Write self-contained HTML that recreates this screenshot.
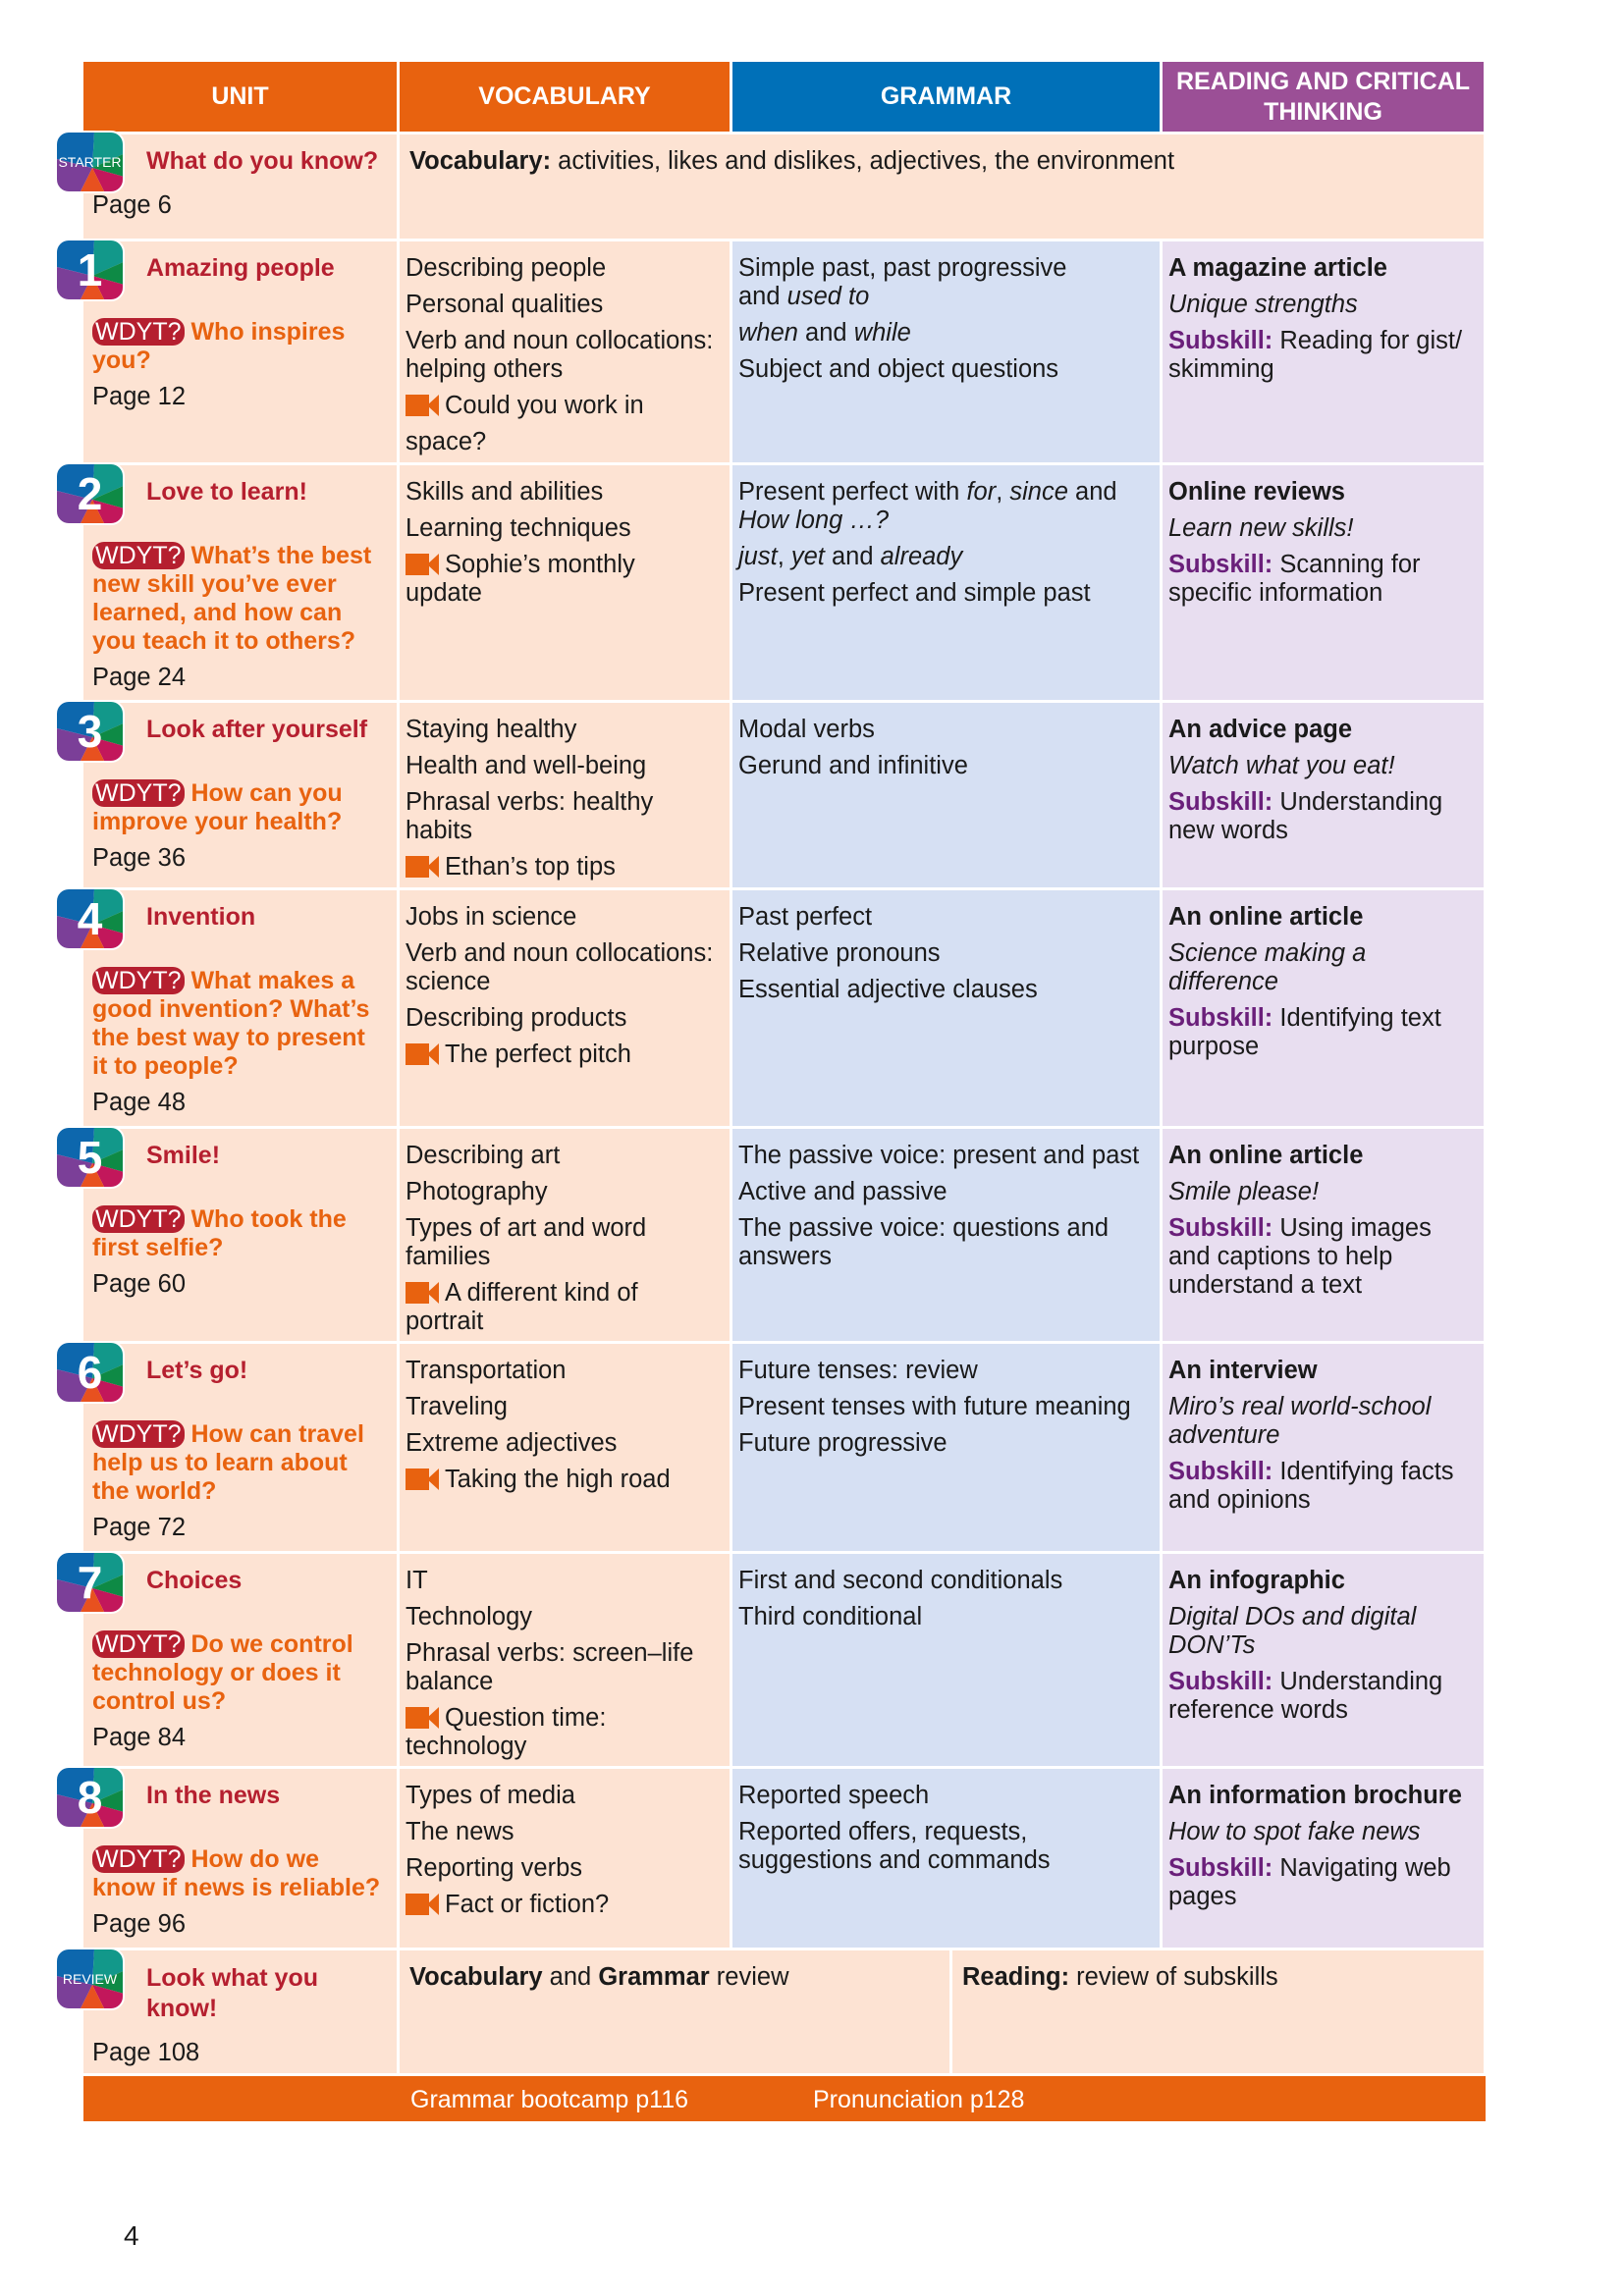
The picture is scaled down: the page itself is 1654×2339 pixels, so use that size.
<!DOCTYPE html>
<html><head><meta charset="utf-8"><style>
*{margin:0;padding:0;box-sizing:border-box}
body{width:1654px;height:2339px;background:#fff;position:relative;font-family:"Liberation Sans",sans-serif;color:#1a1a1a;overflow:hidden}
.c{position:absolute;padding:13px 6px 0 6px;font-size:25.5px;line-height:29px;white-space:nowrap;overflow:hidden}
.c p{margin-bottom:8px}
.pe{background:#fde3d3}.bl{background:#d6e0f3}.lv{background:#e8def0}
.h{position:absolute;color:#fff;font-weight:bold;font-size:25px;display:flex;align-items:center;justify-content:center;text-align:center;line-height:31px;top:63px;height:71px}
.u{padding-left:9px}
.t{color:#b51f2f;font-weight:bold;margin-left:55px;margin-bottom:36px!important;font-size:25px}
.w{color:#e8620f;font-weight:bold;font-size:25px}
.pill{background:#b51f2f;color:#fff;font-weight:normal;border-radius:12px;padding:0 3px}
.s{color:#6a1f7a;font-weight:bold}
.vid{display:inline-block;width:24px;height:22px;background:#e8620f;vertical-align:-3px;position:relative;margin-right:16px}
.vid:after{content:"";position:absolute;left:22px;top:0;border-right:12px solid #e8620f;border-top:11px solid transparent;border-bottom:11px solid transparent}
.bd{position:absolute;left:56px;width:71px;height:64px;border-radius:14px;overflow:hidden;border:2px solid #fff}
.bd span{position:absolute;left:0;top:0;width:67px;height:60px;display:flex;align-items:center;justify-content:center;color:#fff;font-weight:bold;font-size:46px}
.bd span.sm{font-size:14px;font-weight:normal}
</style></head><body>
<div class="h" style="left:85px;width:319px;background:#e8620f">UNIT</div>
<div class="h" style="left:407px;width:336px;background:#e8620f">VOCABULARY</div>
<div class="h" style="left:746px;width:435px;background:#0070b8">GRAMMAR</div>
<div class="h" style="left:1184px;width:327px;background:#9b4f96">READING AND CRITICAL<br>THINKING</div>

<!-- starter -->
<div class="c pe u" style="left:85px;top:137px;width:319px;height:106px"><p class="t" style="margin-bottom:16px!important">What do you know?</p><p>Page 6</p></div>
<div class="c pe" style="left:407px;top:137px;width:1104px;height:106px;padding-left:10px"><p><b>Vocabulary:</b> activities, likes and dislikes, adjectives, the environment</p></div>

<!-- 1 -->
<div class="c pe u" style="left:85px;top:246px;width:319px;height:225px"><p class="t">Amazing people</p><p class="w"><span class="pill">WDYT?</span> Who inspires<br>you?</p><p>Page 12</p></div>
<div class="c pe" style="left:407px;top:246px;width:336px;height:225px"><p>Describing people</p><p>Personal qualities</p><p>Verb and noun collocations:<br>helping others</p><p><span class="vid"></span>Could you work in</p><p>space?</p></div>
<div class="c bl" style="left:746px;top:246px;width:435px;height:225px"><p>Simple past, past progressive<br>and <i>used to</i></p><p><i>when</i> and <i>while</i></p><p>Subject and object questions</p></div>
<div class="c lv" style="left:1184px;top:246px;width:327px;height:225px"><p><b>A magazine article</b></p><p><i>Unique strengths</i></p><p><span class="s">Subskill:</span> Reading for gist/<br>skimming</p></div>

<!-- 2 -->
<div class="c pe u" style="left:85px;top:474px;width:319px;height:239px"><p class="t">Love to learn!</p><p class="w"><span class="pill">WDYT?</span> What’s the best<br>new skill you’ve ever<br>learned, and how can<br>you teach it to others?</p><p>Page 24</p></div>
<div class="c pe" style="left:407px;top:474px;width:336px;height:239px"><p>Skills and abilities</p><p>Learning techniques</p><p><span class="vid"></span>Sophie’s monthly<br>update</p></div>
<div class="c bl" style="left:746px;top:474px;width:435px;height:239px"><p>Present perfect with <i>for</i>, <i>since</i> and<br><i>How long …?</i></p><p><i>just</i>, <i>yet</i> and <i>already</i></p><p>Present perfect and simple past</p></div>
<div class="c lv" style="left:1184px;top:474px;width:327px;height:239px"><p><b>Online reviews</b></p><p><i>Learn new skills!</i></p><p><span class="s">Subskill:</span> Scanning for<br>specific information</p></div>

<!-- 3 -->
<div class="c pe u" style="left:85px;top:716px;width:319px;height:188px"><p class="t">Look after yourself</p><p class="w"><span class="pill">WDYT?</span> How can you<br>improve your health?</p><p>Page 36</p></div>
<div class="c pe" style="left:407px;top:716px;width:336px;height:188px"><p>Staying healthy</p><p>Health and well-being</p><p>Phrasal verbs: healthy<br>habits</p><p><span class="vid"></span>Ethan’s top tips</p></div>
<div class="c bl" style="left:746px;top:716px;width:435px;height:188px"><p>Modal verbs</p><p>Gerund and infinitive</p></div>
<div class="c lv" style="left:1184px;top:716px;width:327px;height:188px"><p><b>An advice page</b></p><p><i>Watch what you eat!</i></p><p><span class="s">Subskill:</span> Understanding<br>new words</p></div>

<!-- 4 -->
<div class="c pe u" style="left:85px;top:907px;width:319px;height:240px"><p class="t">Invention</p><p class="w"><span class="pill">WDYT?</span> What makes a<br>good invention? What’s<br>the best way to present<br>it to people?</p><p>Page 48</p></div>
<div class="c pe" style="left:407px;top:907px;width:336px;height:240px"><p>Jobs in science</p><p>Verb and noun collocations:<br>science</p><p>Describing products</p><p><span class="vid"></span>The perfect pitch</p></div>
<div class="c bl" style="left:746px;top:907px;width:435px;height:240px"><p>Past perfect</p><p>Relative pronouns</p><p>Essential adjective clauses</p></div>
<div class="c lv" style="left:1184px;top:907px;width:327px;height:240px"><p><b>An online article</b></p><p><i>Science making a<br>difference</i></p><p><span class="s">Subskill:</span> Identifying text<br>purpose</p></div>

<!-- 5 -->
<div class="c pe u" style="left:85px;top:1150px;width:319px;height:216px"><p class="t">Smile!</p><p class="w"><span class="pill">WDYT?</span> Who took the<br>first selfie?</p><p>Page 60</p></div>
<div class="c pe" style="left:407px;top:1150px;width:336px;height:216px"><p>Describing art</p><p>Photography</p><p>Types of art and word<br>families</p><p><span class="vid"></span>A different kind of<br>portrait</p></div>
<div class="c bl" style="left:746px;top:1150px;width:435px;height:216px"><p>The passive voice: present and past</p><p>Active and passive</p><p>The passive voice: questions and<br>answers</p></div>
<div class="c lv" style="left:1184px;top:1150px;width:327px;height:216px"><p><b>An online article</b></p><p><i>Smile please!</i></p><p><span class="s">Subskill:</span> Using images<br>and captions to help<br>understand a text</p></div>

<!-- 6 -->
<div class="c pe u" style="left:85px;top:1369px;width:319px;height:211px"><p class="t">Let’s go!</p><p class="w"><span class="pill">WDYT?</span> How can travel<br>help us to learn about<br>the world?</p><p>Page 72</p></div>
<div class="c pe" style="left:407px;top:1369px;width:336px;height:211px"><p>Transportation</p><p>Traveling</p><p>Extreme adjectives</p><p><span class="vid"></span>Taking the high road</p></div>
<div class="c bl" style="left:746px;top:1369px;width:435px;height:211px"><p>Future tenses: review</p><p>Present tenses with future meaning</p><p>Future progressive</p></div>
<div class="c lv" style="left:1184px;top:1369px;width:327px;height:211px"><p><b>An interview</b></p><p><i>Miro’s real world-school<br>adventure</i></p><p><span class="s">Subskill:</span> Identifying facts<br>and opinions</p></div>

<!-- 7 -->
<div class="c pe u" style="left:85px;top:1583px;width:319px;height:216px"><p class="t">Choices</p><p class="w"><span class="pill">WDYT?</span> Do we control<br>technology or does it<br>control us?</p><p>Page 84</p></div>
<div class="c pe" style="left:407px;top:1583px;width:336px;height:216px"><p>IT</p><p>Technology</p><p>Phrasal verbs: screen–life<br>balance</p><p><span class="vid"></span>Question time:<br>technology</p></div>
<div class="c bl" style="left:746px;top:1583px;width:435px;height:216px"><p>First and second conditionals</p><p>Third conditional</p></div>
<div class="c lv" style="left:1184px;top:1583px;width:327px;height:216px"><p><b>An infographic</b></p><p><i>Digital DOs and digital<br>DON’Ts</i></p><p><span class="s">Subskill:</span> Understanding<br>reference words</p></div>

<!-- 8 -->
<div class="c pe u" style="left:85px;top:1802px;width:319px;height:182px"><p class="t">In the news</p><p class="w"><span class="pill">WDYT?</span> How do we<br>know if news is reliable?</p><p>Page 96</p></div>
<div class="c pe" style="left:407px;top:1802px;width:336px;height:182px"><p>Types of media</p><p>The news</p><p>Reporting verbs</p><p><span class="vid"></span>Fact or fiction?</p></div>
<div class="c bl" style="left:746px;top:1802px;width:435px;height:182px"><p>Reported speech</p><p>Reported offers, requests,<br>suggestions and commands</p></div>
<div class="c lv" style="left:1184px;top:1802px;width:327px;height:182px"><p><b>An information brochure</b></p><p><i>How to spot fake news</i></p><p><span class="s">Subskill:</span> Navigating web<br>pages</p></div>

<!-- review -->
<div class="c pe u" style="left:85px;top:1987px;width:319px;height:125px"><p class="t" style="margin-bottom:15px!important;line-height:31px">Look what you<br>know!</p><p>Page 108</p></div>
<div class="c pe" style="left:407px;top:1987px;width:560px;height:125px;padding-left:10px"><p><b>Vocabulary</b> and <b>Grammar</b> review</p></div>
<div class="c pe" style="left:970px;top:1987px;width:541px;height:125px;padding-left:10px"><p><b>Reading:</b> review of subskills</p></div>

<div style="position:absolute;left:85px;top:2115px;width:1428px;height:46px;background:#e8620f;color:#fff;font-size:25px;line-height:48px">
<span style="position:absolute;left:333px">Grammar bootcamp p116</span><span style="position:absolute;left:743px">Pronunciation p128</span></div>
<div style="position:absolute;left:126px;top:2262px;font-size:28px">4</div>

<!-- badges -->
<svg width="0" height="0" style="position:absolute"><defs><g id="seg">
<polygon points="0,0 38,0 36,36 0,27" fill="#0d67ad"/>
<polygon points="38,0 72,0 72,20 36,36" fill="#12988a"/>
<polygon points="72,20 72,46 36,36" fill="#0e8a45"/>
<polygon points="72,46 72,64 50,64 36,36" fill="#c2175b"/>
<polygon points="50,64 22,64 36,36" fill="#e8511f"/>
<polygon points="0,27 36,36 22,64 0,64" fill="#7b3f98"/>
</g></defs></svg>
<div class="bd" style="top:133px"><svg width="72" height="64"><use href="#seg"/></svg><span class="sm">STARTER</span></div>
<div class="bd" style="top:243px"><svg width="72" height="64"><use href="#seg"/></svg><span>1</span></div>
<div class="bd" style="top:471px"><svg width="72" height="64"><use href="#seg"/></svg><span>2</span></div>
<div class="bd" style="top:713px"><svg width="72" height="64"><use href="#seg"/></svg><span>3</span></div>
<div class="bd" style="top:904px"><svg width="72" height="64"><use href="#seg"/></svg><span>4</span></div>
<div class="bd" style="top:1147px"><svg width="72" height="64"><use href="#seg"/></svg><span>5</span></div>
<div class="bd" style="top:1366px"><svg width="72" height="64"><use href="#seg"/></svg><span>6</span></div>
<div class="bd" style="top:1580px"><svg width="72" height="64"><use href="#seg"/></svg><span>7</span></div>
<div class="bd" style="top:1799px"><svg width="72" height="64"><use href="#seg"/></svg><span>8</span></div>
<div class="bd" style="top:1984px"><svg width="72" height="64"><use href="#seg"/></svg><span class="sm">REVIEW</span></div>
</body></html>
